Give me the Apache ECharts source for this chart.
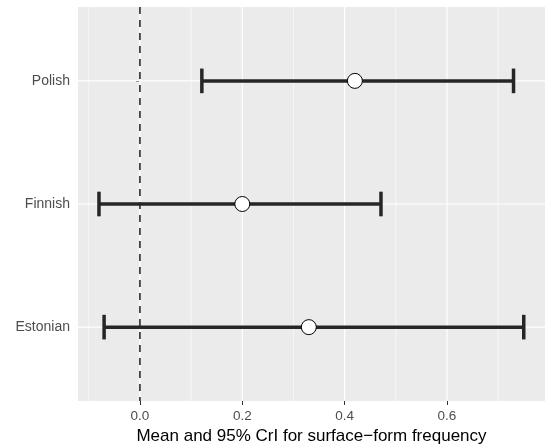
<!DOCTYPE html>
<html><head><meta charset="utf-8">
<script src="https://cdn.jsdelivr.net/npm/echarts@6/dist/echarts.min.js"></script>
<style>html,body{margin:0;padding:0;background:#fff}#c{width:546px;height:447px}</style>
</head><body><div id="c"></div>
<script>
const languages = ['Estonian', 'Finnish', 'Polish'];
const yPos = [1, 2, 3];
const means = [0.330, 0.200, 0.420];
const lower = [-0.070, -0.080, 0.121];
const upper = [0.750, 0.471, 0.730];
const xTicks = [0, 0.2, 0.4, 0.6];
const xMinor = [-0.1, 0.1, 0.3, 0.5, 0.7];
const refLine = [0];
const xTitle = 'Mean and 95% CrI for surface\u2212form frequency';

const FONT = '"Liberation Sans", Arial, sans-serif';
const chart = echarts.init(document.getElementById('c'));

// grid line items: [value, kind]  kind 0 = minor vertical, 1 = major vertical, 2 = horizontal
const gridData = []
  .concat(xMinor.map(v => [v, 0]))
  .concat(xTicks.map(v => [v, 1]))
  .concat(yPos.map(v => [v, 2]));

function gridRender(params, api) {
  const cs = params.coordSys;
  const v = api.value(0), k = api.value(1);
  if (k === 2) {
    const p = api.coord([0, v]);
    return {type: 'line', shape: {x1: cs.x, y1: p[1], x2: cs.x + cs.width, y2: p[1]},
      style: {stroke: '#ffffff', lineWidth: 1.2}};
  }
  const p = api.coord([v, 1]);
  return {type: 'line', shape: {x1: p[0], y1: cs.y, x2: p[0], y2: cs.y + cs.height},
    style: {stroke: '#ffffff', lineWidth: k === 1 ? 1.2 : 0.6}};
}

chart.setOption({
  animation: false,
  grid: {left: 78, right: 1, top: 7, bottom: 46, show: true, backgroundColor: '#EBEBEB', borderWidth: 0,
    containLabel: false, outerBoundsMode: 'none'},
  xAxis: {
    type: 'value', min: -0.121, max: 0.7915,
    axisLine: {show: false},
    splitLine: {show: false},
    axisTick: {show: true, customValues: xTicks, length: 4, lineStyle: {color: '#333333', width: 1}},
    axisLabel: {customValues: xTicks, margin: 8, color: '#4D4D4D', fontFamily: FONT, fontSize: 13.5,
      formatter: v => v.toFixed(1)},
    name: xTitle, nameLocation: 'middle', nameGap: 24,
    nameTextStyle: {color: '#000000', fontFamily: FONT, fontSize: 17}
  },
  yAxis: {
    type: 'value', min: 0.4, max: 3.6,
    axisLine: {show: false},
    splitLine: {show: false},
    axisTick: {show: true, customValues: yPos, length: 4, lineStyle: {color: '#333333', width: 1}},
    axisLabel: {customValues: yPos, margin: 8, color: '#4D4D4D', fontFamily: FONT, fontSize: 14,
      formatter: v => languages[yPos.indexOf(Math.round(v))] || ''}
  },
  series: [
    {type: 'custom', z: 1, silent: true, data: gridData, encode: {x: 0}, renderItem: gridRender},
    {
      type: 'custom', z: 2, silent: true, data: refLine.map(v => [v]), encode: {x: 0},
      renderItem: function (params, api) {
        const cs = params.coordSys;
        const p = api.coord([api.value(0), 1]);
        return {type: 'line', shape: {x1: p[0], y1: cs.y, x2: p[0], y2: cs.y + cs.height},
          style: {stroke: '#2b2b2b', lineWidth: 1.6, lineDash: [7, 6]}};
      }
    },
    {
      type: 'custom', z: 3,
      data: languages.map((n, i) => [lower[i], upper[i], yPos[i]]),
      encode: {x: [0, 1], y: 2},
      renderItem: function (params, api) {
        const lo = api.coord([api.value(0), api.value(2)]);
        const hi = api.coord([api.value(1), api.value(2)]);
        const h = api.size([0, 0.1])[1];
        const st = {stroke: '#262626', lineWidth: 3.5};
        return {type: 'group', children: [
          {type: 'line', shape: {x1: lo[0], y1: lo[1], x2: hi[0], y2: hi[1]}, style: st},
          {type: 'line', shape: {x1: lo[0], y1: lo[1] - h, x2: lo[0], y2: lo[1] + h}, style: st},
          {type: 'line', shape: {x1: hi[0], y1: hi[1] - h, x2: hi[0], y2: hi[1] + h}, style: st}
        ]};
      }
    },
    {
      type: 'scatter', z: 4,
      data: means.map((m, i) => [m, yPos[i]]),
      symbol: 'circle', symbolSize: 15,
      itemStyle: {color: '#ffffff', borderColor: '#000000', borderWidth: 1, opacity: 1}
    }
  ]
});
</script>
</body></html>
